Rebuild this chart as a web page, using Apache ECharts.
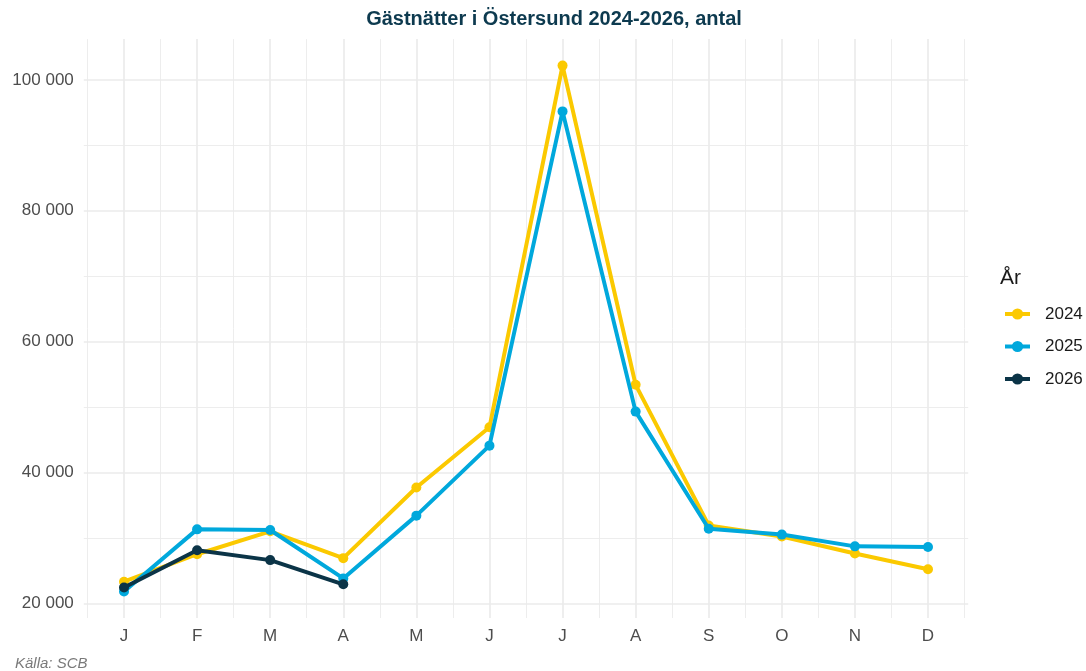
<!DOCTYPE html>
<html>
<head>
<meta charset="utf-8">
<script src="https://cdn.jsdelivr.net/npm/echarts@6/dist/echarts.min.js"></script>
<style>
  html, body { margin: 0; padding: 0; background: #fff; }
  #chart { width: 1086px; height: 671px; }
</style>
</head>
<body>
<div id="chart"></div>
<script>
var months = ['J', 'F', 'M', 'A', 'M', 'J', 'J', 'A', 'S', 'O', 'N', 'D'];
var years = ['2024', '2025', '2026'];
var v2024 = [23300, 27500, 31000, 26900, 37700, 46900, 102200, 53400, 31900, 30200, 27600, 25200];
var v2025 = [21800, 31300, 31200, 23800, 33400, 44100, 95200, 49300, 31400, 30500, 28700, 28600];
var v2026 = [22400, 28100, 26600, 22900];
var yTicks = [20000, 40000, 60000, 80000, 100000];

var colors = ['#fbc900', '#00a8dc', '#0b3447'];
var gridColor = '#ebebeb';

// gridline patterns: fine tick steps, only some of them visible
function pattern(period, index) {
    var arr = [];
    for (var i = 0; i < period; i++) arr.push(i === index ? gridColor : 'rgba(0,0,0,0)');
    return arr;
}

function pairs(vals) {
    return vals.map(function (v, i) { return [i, v]; });
}

function fmt(v) {
    return String(v).replace(/\B(?=(\d{3})+(?!\d))/g, ' ');
}

var chart = echarts.init(document.getElementById('chart'));

var xBase = { type: 'value', min: -0.55, max: 11.55, interval: 0.05, axisLine: { show: false }, axisTick: { show: false } };
var yBase = { type: 'value', min: 17750, max: 106250, interval: 250, axisLine: { show: false }, axisTick: { show: false } };

var series = [v2024, v2025, v2026].map(function (vals, k) {
    return {
        name: years[k],
        type: 'line',
        data: pairs(vals),
        symbol: 'circle',
        symbolSize: 10,
        lineStyle: { width: 4, color: colors[k] },
        itemStyle: { color: colors[k] },
        emphasis: { disabled: true },
        z: 3 + k
    };
});

chart.setOption({
    animation: false,
    title: [
        {
            text: 'Gästnätter i Östersund 2024-2026, antal',
            left: 549,
            top: 4,
            textAlign: 'center',
            textStyle: { fontFamily: 'Liberation Sans', fontSize: 20, fontWeight: 'bold', color: '#0d3a4f' }
        },
        {
            text: 'År',
            left: 995,
            top: 263,
            textStyle: { fontFamily: 'Liberation Sans', fontSize: 21, fontWeight: 'normal', color: '#1a1a1a' }
        },
        {
            text: 'Källa: SCB',
            left: 10,
            top: 651,
            textStyle: { fontFamily: 'Liberation Sans', fontSize: 15, fontStyle: 'italic', fontWeight: 'normal', color: '#7a7a7a' }
        }
    ],
    legend: {
        data: years,
        orient: 'vertical',
        left: 998,
        top: 300.5,
        itemWidth: 25,
        itemHeight: 14,
        itemGap: 15.5,
        lineStyle: { width: 4 },
        textStyle: { fontFamily: 'Liberation Sans', fontSize: 17, lineHeight: 17, color: '#1a1a1a', padding: [0, 0, 0, 10] }
    },
    grid: { left: 83.8, right: 117.8, top: 39.1, bottom: 53 },
    xAxis: [
        Object.assign({}, xBase, {
            axisLabel: {
                fontFamily: 'Liberation Sans', fontSize: 17, color: '#4d4d4d', margin: 10,
                formatter: function (v) {
                    var r = Math.round(v);
                    return Math.abs(v - r) < 1e-6 && r >= 0 && r < months.length ? months[r] : '';
                }
            },
            splitLine: { show: true, lineStyle: { width: 1.7, color: pattern(20, 11) } }
        }),
        Object.assign({}, xBase, {
            axisLabel: { show: false },
            splitLine: { show: true, lineStyle: { width: 0.9, color: pattern(20, 1) } }
        })
    ],
    yAxis: [
        Object.assign({}, yBase, {
            axisLabel: {
                fontFamily: 'Liberation Sans', fontSize: 17, color: '#4d4d4d', margin: 10,
                formatter: function (v) { return yTicks.indexOf(v) >= 0 ? fmt(v) : ''; }
            },
            splitLine: { show: true, lineStyle: { width: 1.7, color: pattern(80, 9) } }
        }),
        Object.assign({}, yBase, {
            position: 'left',
            axisLabel: { show: false },
            splitLine: { show: true, lineStyle: { width: 0.9, color: pattern(80, 49) } }
        })
    ],
    series: series
});
</script>
</body>
</html>
